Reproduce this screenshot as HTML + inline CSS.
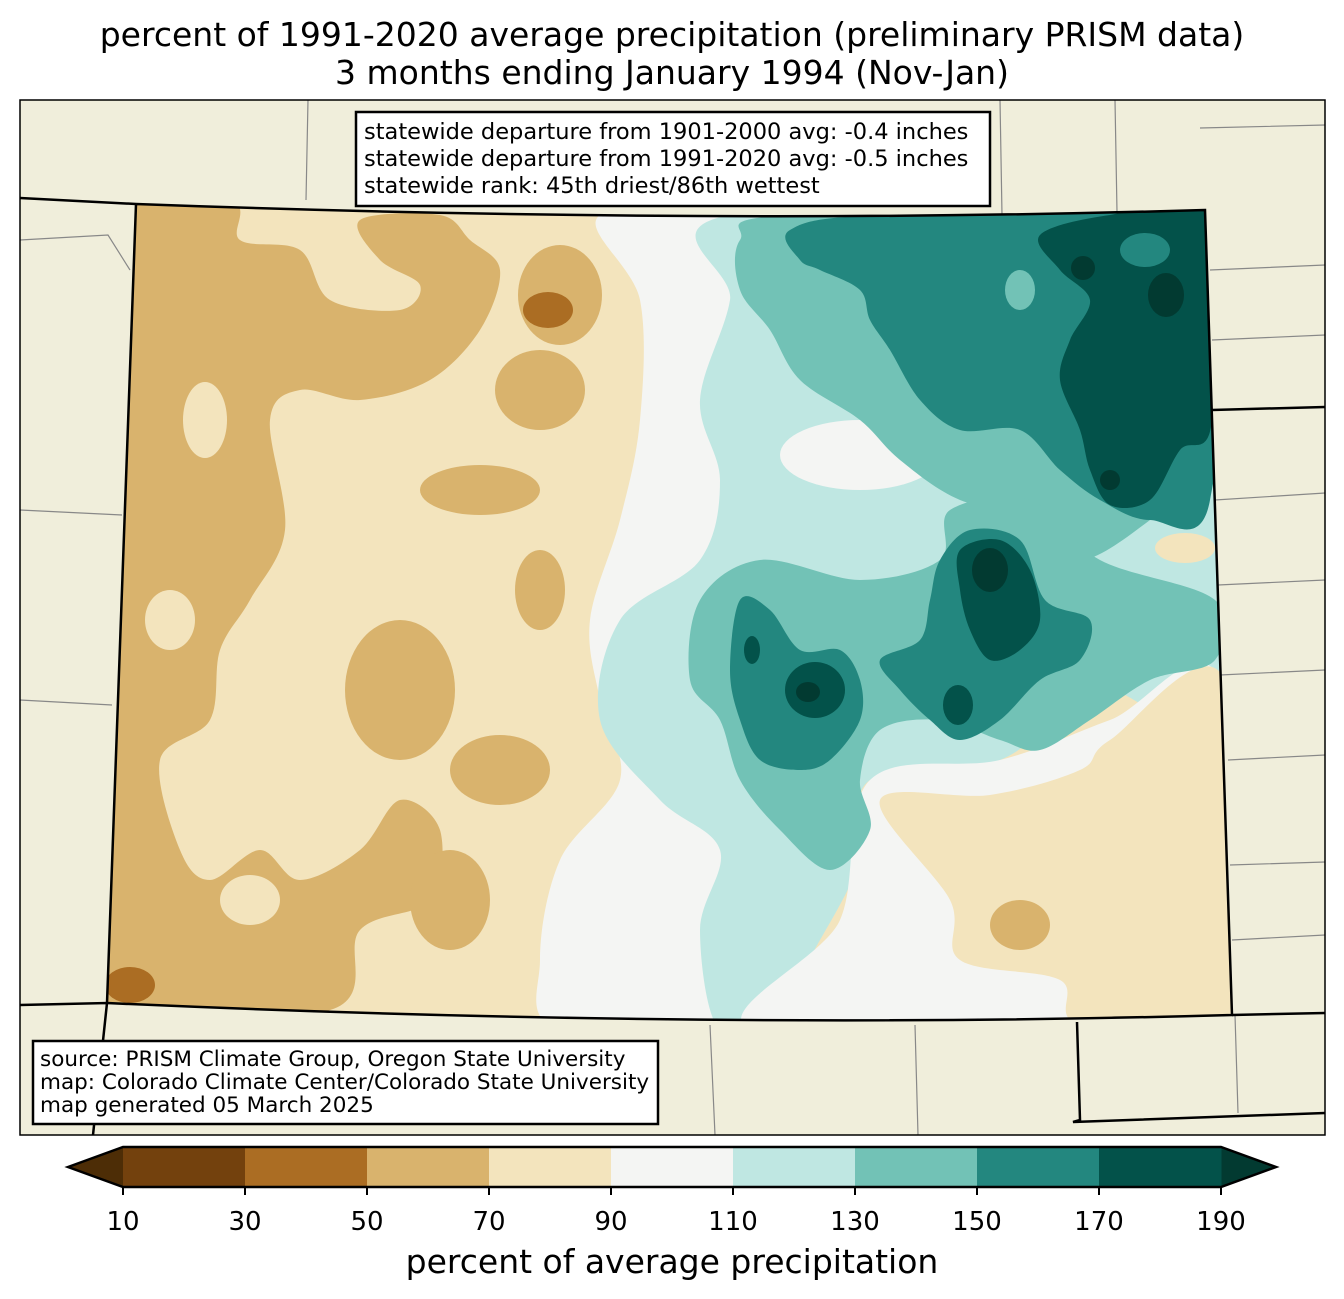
<!DOCTYPE html>
<html><head><meta charset="utf-8"><style>
body{margin:0;background:#fff;font-family:"DejaVu Sans","Liberation Sans",sans-serif}
svg{display:block}
</style></head><body>
<svg id="root" width="1344" height="1299" viewBox="0 0 1344 1299" xmlns="http://www.w3.org/2000/svg">
<text x="672" y="46" text-anchor="middle" font-size="33" font-family="DejaVu Sans,Liberation Sans,sans-serif">percent of 1991-2020 average precipitation (preliminary PRISM data)</text>
<text x="672" y="84" text-anchor="middle" font-size="33" font-family="DejaVu Sans,Liberation Sans,sans-serif">3 months ending January 1994 (Nov-Jan)</text>
<defs><clipPath id="co"><path d="M136,204 Q700,225 1205,210 L1232,1015 Q700,1030 107,1003 Z"/></clipPath>
<clipPath id="frame"><rect x="20" y="100" width="1305" height="1035"/></clipPath></defs>
<g clip-path="url(#frame)">
<rect x="20" y="100" width="1305" height="1035" fill="#f0eedb"/>
<g id="outlines" stroke="#888" stroke-width="1.2" fill="none">
<path d="M308,100 L306,200 M1000,100 L1002,215 M1115,100 L1117,212 M1200,128 L1325,125 M1210,270 L1325,265 M1212,340 L1325,335 M1215,500 L1325,493 M1218,585 L1325,580 M1220,675 L1325,670 M1228,760 L1325,755 M1230,865 L1325,862 M1232,940 L1325,935 M20,510 L122,515 M20,700 L112,705 M710,1025 L715,1135 M915,1025 L918,1135 M1235,1015 L1238,1113 M20,240 L108,235 L130,270"/>
</g>
<g clip-path="url(#co)" id="fills"></g>
<g stroke="#000" stroke-width="2.5" fill="none">
<path d="M136,204 Q700,225 1205,210 L1232,1015 Q700,1030 107,1003 L136,204"/>
<path d="M20,198 L136,204 M20,1005 L107,1003 L93,1135 M1232,1015 L1325,1013 M1212,410 L1325,407 M1077,1022 L1080,1120 L1073,1122 L1325,1113"/>
</g>
</g>
<rect x="20" y="100" width="1305" height="1035" fill="none" stroke="#000" stroke-width="1.5"/>
<g>
<rect x="356" y="112" width="634" height="94" fill="#fff" stroke="#000" stroke-width="2.5"/>
<text font-size="22.5" font-family="DejaVu Sans,Liberation Sans,sans-serif" x="364">
<tspan y="139">statewide departure from 1901-2000 avg: -0.4 inches</tspan>
<tspan x="364" y="166">statewide departure from 1991-2020 avg: -0.5 inches</tspan>
<tspan x="364" y="193">statewide rank: 45th driest/86th wettest</tspan></text>
</g>
<g>
<rect x="33" y="1041" width="625" height="83" fill="#fff" stroke="#000" stroke-width="2.5"/>
<text font-size="21.5" font-family="DejaVu Sans,Liberation Sans,sans-serif" x="40">
<tspan y="1066">source: PRISM Climate Group, Oregon State University</tspan>
<tspan x="40" y="1089">map: Colorado Climate Center/Colorado State University</tspan>
<tspan x="40" y="1112">map generated 05 March 2025</tspan></text>
</g>
<g id="cbar"></g>
<text x="672" y="1273" text-anchor="middle" font-size="33" font-family="DejaVu Sans,Liberation Sans,sans-serif">percent of average precipitation</text>
</svg>
<script>
const levels=[10,30,50,70,90,110,130,150,170,190];
const colors=["#73410d","#ab6d23","#d9b36d","#f3e4bd","#f4f5f3","#bfe7e2","#72c2b6","#23877f","#03524a"];
const extLow="#4d2d06", extHigh="#023a31";
const NS="http://www.w3.org/2000/svg";
const cb=document.getElementById('cbar');
const x0=123,x1=1221,y0=1147,y1=1187;
const cx=v=>x0+(v-levels[0])/(levels[levels.length-1]-levels[0])*(x1-x0);
function mk(t,a,p){const e=document.createElementNS(NS,t);for(const k in a)e.setAttribute(k,a[k]);(p||cb).appendChild(e);return e;}
const lo=mk('polygon',{points:`${x0},${y0} ${x0},${y1} 68,${(y0+y1)/2}`,fill:extLow});


const hi=mk('polygon',{points:`${x1},${y0} ${x1},${y1} 1276,${(y0+y1)/2}`,fill:extHigh});


colors.forEach((c,i)=>{const r=mk('rect',{x:cx(levels[i]),y:y0,width:cx(levels[i+1])-cx(levels[i])+0.5,height:y1-y0,fill:c});

});
mk('polygon',{points:`68,${(y0+y1)/2} ${x0},${y0} ${x1},${y0} 1276,${(y0+y1)/2} ${x1},${y1} ${x0},${y1}`,fill:'none',stroke:'#000','stroke-width':2.5});
levels.forEach(v=>{mk('line',{x1:cx(v),x2:cx(v),y1:y1,y2:y1+8,stroke:'#000','stroke-width':2});
const t=mk('text',{x:cx(v),y:1230,'text-anchor':'middle','font-size':26,'font-family':'DejaVu Sans,Liberation Sans,sans-serif'});t.textContent=v;

});
const F=document.getElementById('fills');
function blob(pts,fill){let d='';const n=pts.length;
for(let i=0;i<n;i++){const p0=pts[(i-1+n)%n],p1=pts[i],p2=pts[(i+1)%n],p3=pts[(i+2)%n];
if(i===0)d+=`M${p1[0]},${p1[1]}`;
d+=` C${p1[0]+(p2[0]-p0[0])/6},${p1[1]+(p2[1]-p0[1])/6} ${p2[0]-(p3[0]-p1[0])/6},${p2[1]-(p3[1]-p1[1])/6} ${p2[0]},${p2[1]}`;}
const e=mk('path',{d:d+'Z',fill:fill},F);

}
function ell(x,y,rx,ry,fill){const e=mk('ellipse',{cx:x,cy:y,rx:rx,ry:ry,fill:fill},F);

}
mk('rect',{x:90,y:190,width:1160,height:850,fill:colors[3]},F);
blob([[100,195],[230,200],[240,240],[300,250],[330,300],[400,310],[420,285],[380,260],[360,220],[440,215],[470,240],[500,270],[480,330],[430,380],[360,400],[300,390],[270,420],[285,530],[250,600],[220,650],[210,720],[160,760],[180,850],[210,880],[260,850],[300,880],[360,850],[400,800],[440,830],[430,900],[360,930],[330,1010],[90,1010]],colors[2]);
ell(560,295,42,50,colors[2]);ell(548,310,25,18,colors[1]);
ell(540,390,45,40,colors[2]);ell(400,690,55,70,colors[2]);ell(500,770,50,35,colors[2]);
ell(480,490,60,25,colors[2]);ell(540,590,25,40,colors[2]);ell(450,900,40,50,colors[2]);
ell(205,420,22,38,colors[3]);ell(170,620,25,30,colors[3]);ell(250,900,30,25,colors[3]);ell(300,700,30,22,colors[3]);
ell(130,985,25,18,colors[1]);
blob([[600,215],[760,215],[760,1030],[560,1030],[540,960],[560,860],[620,780],[600,700],[590,620],[620,520],[640,420],[640,300]],colors[4]);
blob([[730,215],[1210,210],[1220,700],[1100,690],[1000,760],[870,780],[860,860],[820,940],[780,1000],[720,1030],[700,930],[720,850],[660,800],[600,720],[620,620],[700,560],[720,480],[700,400],[730,300]],colors[5]);
ell(860,455,80,35,colors[4]);
blob([[870,780],[1000,760],[1110,720],[1220,680],[1240,1030],[760,1035],[840,920]],colors[4]);
blob([[1110,740],[1225,680],[1240,1030],[1080,1025],[1060,980],[960,960],[950,900],[880,800],[990,795],[1080,770]],colors[3]);
ell(1020,925,30,25,colors[2]);ell(1185,548,30,15,colors[3]);
blob([[740,240],[790,215],[1210,210],[1215,460],[1150,520],[1080,560],[1040,520],[960,500],[900,460],[860,420],[800,380],[770,330],[740,290]],colors[6]);
blob([[700,600],[760,560],[860,580],[940,560],[950,510],[1030,500],[1100,560],[1215,600],[1215,660],[1150,680],[1090,720],[1040,750],[1000,740],[940,720],[880,730],[860,780],[870,830],[830,870],[780,830],[740,780],[720,720],[690,680]],colors[6]);
blob([[790,230],[880,215],[1205,212],[1210,500],[1150,520],[1100,500],[1060,470],[1020,430],[960,430],[920,400],[890,350],[870,320],[860,290],[820,270],[800,260]],colors[7]);
ell(1020,290,15,20,colors[6]);
blob([[940,560],[970,530],[1020,540],[1045,600],[1090,620],[1080,660],[1040,680],[1000,720],[960,740],[930,720],[900,690],[880,660],[920,640],[930,600]],colors[7]);
blob([[740,600],[770,610],[800,650],[840,650],[860,680],[860,720],[830,760],[800,770],[760,760],[740,720],[730,670]],colors[7]);
blob([[1040,235],[1110,215],[1205,212],[1212,420],[1180,450],[1150,500],[1110,505],[1090,470],[1080,430],[1060,380],[1070,340],[1090,300],[1060,270]],colors[8]);
ell(1145,250,25,17,colors[7]);
blob([[960,550],[1000,540],[1030,570],[1040,620],[1020,650],[990,660],[970,630],[960,590]],colors[8]);
ell(815,690,30,28,colors[8]);ell(958,705,15,20,colors[8]);ell(752,650,8,14,colors[8]);
ell(1083,268,12,12,extHigh);ell(1166,295,18,22,extHigh);ell(990,570,18,22,extHigh);ell(1110,480,10,10,extHigh);ell(808,692,12,10,extHigh);
</script>
</body></html>
